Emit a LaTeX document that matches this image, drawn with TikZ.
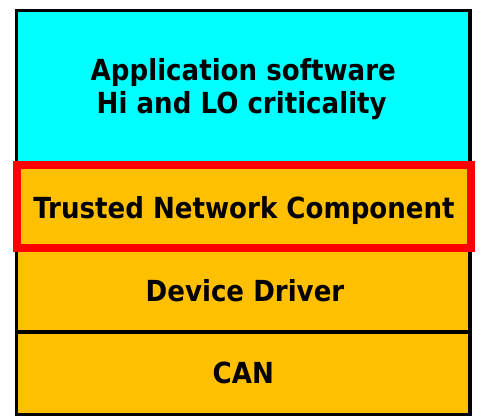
\documentclass[tikz,border=0pt]{standalone}
\usepackage{fontspec}
\setmainfont{DejaVu Sans}
\definecolor{appcyan}{HTML}{00FFFF}
\definecolor{layerorange}{HTML}{FFC000}
\definecolor{tncred}{HTML}{FF0000}
\newcommand{\narrowtxt}[1]{\scalebox{0.9}[1]{#1}}
\begin{document}
\begin{tikzpicture}[x=1pt,y=-1pt,
  lbl/.style={font=\bfseries\fontsize{29}{32}\selectfont, inner sep=0pt, anchor=base},
  sep/.style={line width=3.8pt, black},
  tnc/.style={line width=8pt, tncred}]
\useasboundingbox (0,0) rectangle (481,419);
\fill[appcyan] (16.5,10.5) rectangle (470,165.5);
\fill[layerorange] (16.5,165.5) rectangle (470,414.5);
\draw[sep] (16.5,10.5) rectangle (470,414.5);
\draw[sep] (16.5,332) -- (470,332);
\draw[sep] (16.5,248) -- (470,248);
\draw[tnc] (17,165.5) rectangle (471,248);
\node[lbl] (app1) at (243.3,81) {\narrowtxt{Application software}};
\node[lbl] (app2) at (241.7,113.3) {\narrowtxt{Hi and LO criticality}};
\node[lbl] (tnc) at (244,219) {\narrowtxt{Trusted Network Component}};
\node[lbl] (dd) at (245,301.7) {\narrowtxt{Device Driver}};
\node[lbl] (can) at (243.3,383.3) {\narrowtxt{CAN}};
\end{tikzpicture}
\end{document}
